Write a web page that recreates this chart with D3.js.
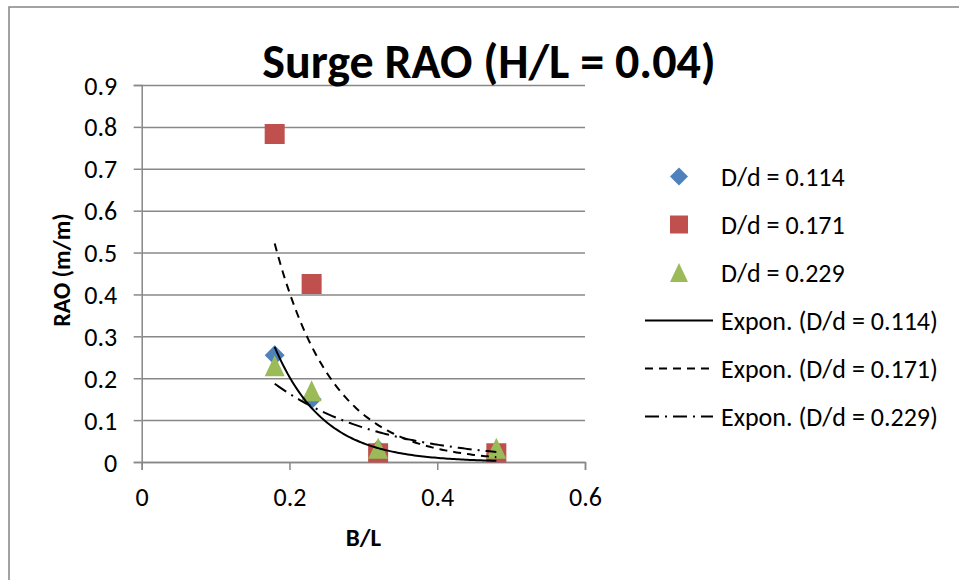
<!DOCTYPE html>
<html>
<head>
<meta charset="utf-8">
<script src="https://cdn.jsdelivr.net/npm/d3@7"></script>
<style>
  html, body { margin: 0; padding: 0; background: #fff; }
  svg { display: block; font-family: Carlito, Calibri, Lato, sans-serif; }
</style>
</head>
<body>
<svg id="chart" width="959" height="580"></svg>
<script>
// B/L values shared by all three series
const bOverL = [0.18, 0.23, 0.32, 0.48];
// Surge RAO (m/m) for each D/d ratio
const rao114 = [0.255, 0.15, 0.03, 0.003];
const rao171 = [0.783, 0.425, 0.021, 0.021];
const rao229 = [0.23, 0.17, 0.033, 0.033];

const seriesNames = ["D/d = 0.114", "D/d = 0.171", "D/d = 0.229"];
const yTicks = [0, 0.1, 0.2, 0.3, 0.4, 0.5, 0.6, 0.7, 0.8, 0.9];
const xTicks = [0, 0.2, 0.4, 0.6];

// Office-style marker shapes: size is the marker width squared
const markerDiamond = {
  draw(ctx, size) {
    const r = Math.sqrt(size) / 2;
    ctx.moveTo(0, -r); ctx.lineTo(r, 0); ctx.lineTo(0, r); ctx.lineTo(-r, 0); ctx.closePath();
  }
};
const markerSquare = {
  draw(ctx, size) {
    const r = Math.sqrt(size) / 2;
    ctx.rect(-r, -r, 2 * r, 2 * r);
  }
};
const markerTriangle = {
  draw(ctx, size) {
    const r = Math.sqrt(size) / 2;
    ctx.moveTo(0, -r * 1.05); ctx.lineTo(r, r * 1.05); ctx.lineTo(-r, r * 1.05); ctx.closePath();
  }
};

const series = [
  { name: seriesNames[0], values: rao114, color: "#4F81BD", symbol: markerDiamond, trendDash: null },
  { name: seriesNames[1], values: rao171, color: "#C0504D", symbol: markerSquare, trendDash: "8,6" },
  { name: seriesNames[2], values: rao229, color: "#9BBB59", symbol: markerTriangle, trendDash: "14,6,2,6" }
];

const svg = d3.select("#chart");
const plot = { left: 141.7, right: 585, top: 85, bottom: 462 };

const x = d3.scaleLinear().domain([0, 0.6]).range([plot.left, plot.right]);
const y = d3.scaleLinear().domain([0, 0.9]).range([plot.bottom, plot.top]);

const tickFont = 26;

// outer chart frame
svg.append("rect")
  .attr("x", 9).attr("y", 7).attr("width", 980).attr("height", 600)
  .attr("fill", "#fff").attr("stroke", "#8c8c8c").attr("stroke-width", 1.6);

// plot-area clip for the series
svg.append("defs").append("clipPath").attr("id", "plot-clip")
  .append("rect")
  .attr("x", plot.left).attr("y", plot.top - 30)
  .attr("width", plot.right - plot.left).attr("height", plot.bottom - plot.top + 30.5);

// horizontal gridlines + y axis
const yAxis = d3.axisLeft(y).tickValues(yTicks).tickSize(8).tickFormat(d3.format("~g"));
const gy = svg.append("g").attr("transform", `translate(${plot.left},0)`).call(yAxis);
gy.select(".domain").attr("stroke", "#888").attr("stroke-width", 1.5);
gy.selectAll(".tick line").attr("stroke", "#888").attr("stroke-width", 1.5);
gy.selectAll(".tick").append("line")
  .attr("x1", 0).attr("x2", plot.right - plot.left)
  .attr("stroke", "#888").attr("stroke-width", 1.5);
gy.selectAll(".tick text")
  .attr("x", -24.5).attr("dy", null).attr("y", 9)
  .attr("fill", "#000").attr("font-size", tickFont).attr("font-family", "Carlito, Calibri, Lato, sans-serif");

// x axis
const xAxis = d3.axisBottom(x).tickValues(xTicks).tickSize(8).tickFormat(d3.format("~g"));
const gx = svg.append("g").attr("transform", `translate(0,${plot.bottom})`).call(xAxis);
gx.select(".domain").attr("stroke", "#888").attr("stroke-width", 1.5);
gx.selectAll(".tick line").attr("stroke", "#888").attr("stroke-width", 1.5);
gx.selectAll(".tick text")
  .attr("y", 44).attr("dy", null)
  .attr("fill", "#000").attr("font-size", tickFont).attr("font-family", "Carlito, Calibri, Lato, sans-serif");

const dataLayer = svg.append("g").attr("clip-path", "url(#plot-clip)");

// markers, drawn series by series
series.forEach(s => {
  dataLayer.append("g").selectAll("path")
    .data(bOverL.map((b, i) => [b, s.values[i]]))
    .join("path")
    .attr("transform", d => `translate(${x(d[0])},${y(d[1])})`)
    .attr("d", d3.symbol().type(s.symbol).size(400))
    .attr("fill", s.color);
});

// least-squares exponential trendline y = a·e^(b·x), fitted on ln(y)
function expFit(xs, ys) {
  const ly = ys.map(Math.log);
  const mx = d3.mean(xs), my = d3.mean(ly);
  const sxy = d3.sum(xs, (v, i) => (v - mx) * (ly[i] - my));
  const sxx = d3.sum(xs, v => (v - mx) * (v - mx));
  const b = sxy / sxx;
  const a = Math.exp(my - b * mx);
  return t => a * Math.exp(b * t);
}

const [xMin, xMax] = d3.extent(bOverL);
const samples = d3.range(0, 101).map(i => xMin + (xMax - xMin) * i / 100);
const trendLine = d3.line().x(d => x(d[0])).y(d => y(d[1]));

series.forEach(s => {
  const f = expFit(bOverL, s.values);
  dataLayer.append("path")
    .datum(samples.map(t => [t, f(t)]))
    .attr("d", trendLine)
    .attr("fill", "none")
    .attr("stroke", "#000")
    .attr("stroke-width", 2)
    .attr("stroke-dasharray", s.trendDash);
});

// title
svg.append("text")
  .attr("x", 489).attr("y", 78)
  .attr("text-anchor", "middle")
  .attr("font-weight", "bold").attr("font-size", 48)
  .text("Surge RAO (H/L = 0.04)");

// axis titles
svg.append("text")
  .attr("x", (plot.left + plot.right) / 2).attr("y", 546)
  .attr("text-anchor", "middle")
  .attr("font-weight", "bold").attr("font-size", 25)
  .text("B/L");

svg.append("text")
  .attr("transform", "translate(70,270) rotate(-90)")
  .attr("text-anchor", "middle")
  .attr("font-weight", "bold").attr("font-size", 24)
  .text("RAO (m/m)");

// legend
const legendRows = [176.5, 224.5, 272.5, 320.5, 368.5, 416.5];
const legend = svg.append("g");
series.forEach((s, i) => {
  legend.append("path")
    .attr("transform", `translate(679,${legendRows[i]})`)
    .attr("d", d3.symbol().type(s.symbol).size(324))
    .attr("fill", s.color);
  legend.append("text")
    .attr("x", 721).attr("y", legendRows[i] + 9)
    .attr("font-size", tickFont)
    .text(s.name);
});
series.forEach((s, i) => {
  const ry = legendRows[i + 3];
  legend.append("line")
    .attr("x1", 645).attr("x2", 713).attr("y1", ry).attr("y2", ry)
    .attr("stroke", "#000").attr("stroke-width", 2)
    .attr("stroke-dasharray", s.trendDash);
  legend.append("text")
    .attr("x", 721).attr("y", ry + 9)
    .attr("font-size", tickFont)
    .text(`Expon. (${s.name})`);
});
</script>
</body>
</html>
